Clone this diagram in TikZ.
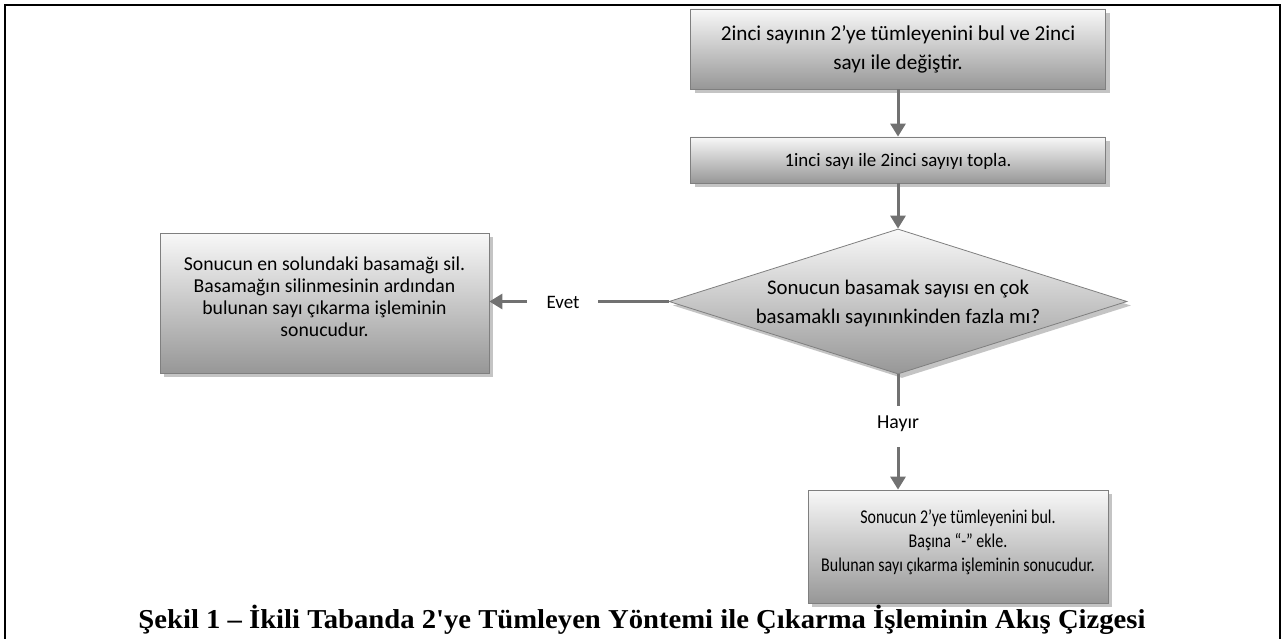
\documentclass[tikz,border=0pt]{standalone}
\usepackage{fontspec}
\setmainfont{Carlito}
\newfontfamily\narrowfont[FakeStretch=0.82]{Carlito}
\newfontfamily\capfont[FakeStretch=1.05]{Liberation Serif}
\usetikzlibrary{shapes.geometric,arrows.meta,shadows}
\definecolor{edgegray}{HTML}{7F7F7F}
\definecolor{arrowgray}{HTML}{717171}
\definecolor{shadegray}{HTML}{C4C4C4}
\definecolor{toplight}{HTML}{F8F8F8}
\definecolor{botdark}{HTML}{979797}
\tikzset{
  flowbox/.style={draw=edgegray, line width=0.8pt, inner sep=0pt,
    top color=toplight, bottom color=botdark,
    drop shadow={shadow xshift=4pt, shadow yshift=-4pt, fill=shadegray, opacity=1}},
  decision/.style={flowbox, shape=diamond},
  boxtext/.style={align=center, inner sep=0pt},
  flowarrow/.style={draw=arrowgray, line width=3pt, -{Triangle[width=15pt,length=13pt]}},
  flowline/.style={draw=arrowgray, line width=3pt},
  tag/.style={inner sep=0pt}
}
\begin{document}
\begin{tikzpicture}[x=1pt,y=-1pt]
\useasboundingbox (0,0) rectangle (1284,639);
% outer frame, open at the bottom
\draw[line width=2.6pt] (5,639) -- (5,5) -- (1280,5) -- (1280,639);

% shapes
\node[flowbox, minimum width=415pt, minimum height=80pt] (find) at (898,49) {};
\node[flowbox, minimum width=415pt, minimum height=46pt] (add) at (898,160) {};
\node[decision, minimum width=458pt, minimum height=145pt] (dia) at (898,301.5) {};
\node[flowbox, minimum width=329pt, minimum height=140pt] (drop) at (324.5,303) {};
\node[flowbox, minimum width=300pt, minimum height=113pt] (neg) at (958,546.5) {};

% texts inside the shapes
\node[boxtext, font=\fontsize{21.2}{29}\selectfont] (findtxt) at (898,49.5)
  {2inci sayının 2’ye tümleyenini bul ve 2inci\\sayı ile değiştir.};
\node[boxtext, font=\fontsize{18.9}{23}\selectfont] (addtxt) at (898,161)
  {1inci sayı ile 2inci sayıyı topla.};
\node[boxtext, font=\fontsize{20.8}{29}\selectfont] (diatxt) at (898,303)
  {Sonucun basamak sayısı en çok\\basamaklı sayınınkinden fazla mı?};
\node[boxtext, font=\fontsize{19.7}{22}\selectfont] (droptxt) at (324.5,296.5)
  {Sonucun en solundaki basamağı sil.\\Basamağın silinmesinin ardından\\bulunan sayı çıkarma işleminin\\sonucudur.};
\node[boxtext, font=\narrowfont\fontsize{19.5}{24}\selectfont] (negtxt) at (958,542)
  {Sonucun 2’ye tümleyenini bul.\\Başına “-” ekle.\\Bulunan sayı çıkarma işleminin sonucudur.};

% branch labels
\node[tag, font=\fontsize{19}{22}\selectfont] (evet) at (563,302) {Evet};
\node[tag, font=\fontsize{19.8}{22}\selectfont] (hayir) at (898,424) {Hayır};
\coordinate (evR) at (598,301.5);
\coordinate (evL) at (527,301.5);
\coordinate (hyT) at (898,406);
\coordinate (hyB) at (898,447);

% connectors
\draw[flowarrow] (find.south) -- (add.north);
\draw[flowarrow] (add.south) -- (dia.north);
\draw[flowline] (dia.west) -- (evR);
\draw[flowarrow] (evL) -- (evL -| drop.east);
\draw[flowline] (dia.south) -- (hyT);
\draw[flowarrow] (hyB) -- (hyB |- neg.north);

% caption
\node[font=\capfont\bfseries\fontsize{27.3}{32}\selectfont, inner sep=0pt] (cap) at (642,620)
  {Şekil 1 – İkili Tabanda 2'ye Tümleyen Yöntemi ile Çıkarma İşleminin Akış Çizgesi};
\end{tikzpicture}
\end{document}
